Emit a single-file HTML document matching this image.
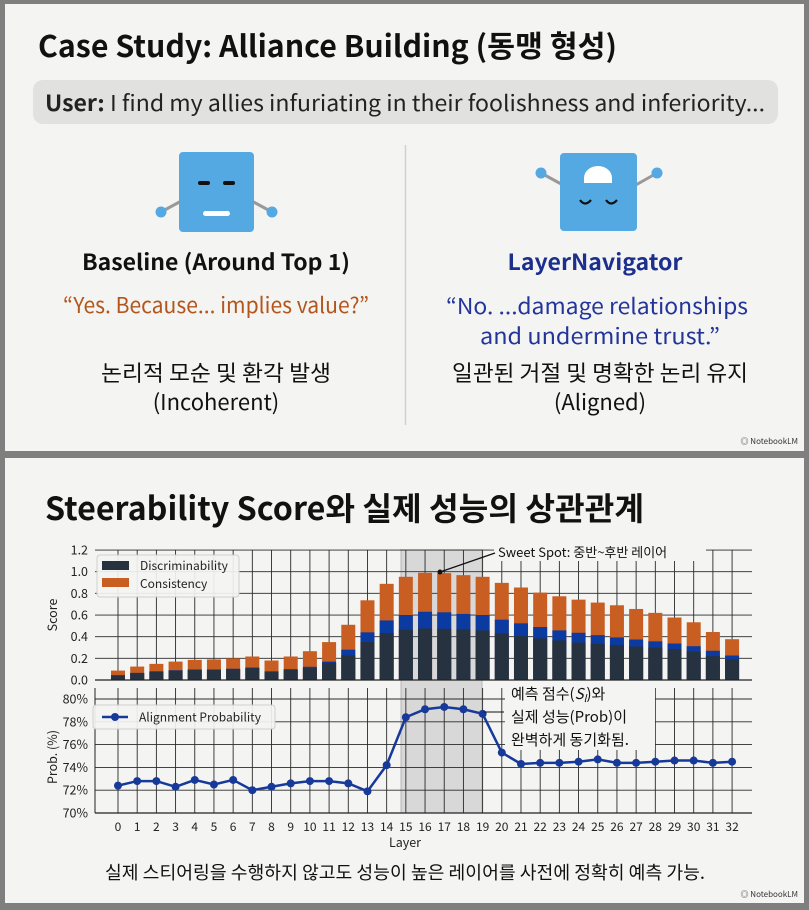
<!DOCTYPE html>
<html><head><meta charset="utf-8">
<style>
html,body{margin:0;padding:0;background:#808080;}
svg{display:block;font-family:"Noto Sans CJK KR","Liberation Sans",sans-serif;}
</style></head>
<body>
<svg id="s" width="809" height="910" viewBox="0 0 809 910" xmlns="http://www.w3.org/2000/svg">
<rect x="0" y="0" width="809" height="910" fill="#7f7f7f"/>
<rect x="5" y="4" width="799" height="447" fill="#f4f4f2"/>
<rect x="5" y="458" width="799" height="445" fill="#f4f4f2"/>

<!-- TOP SLIDE -->
<text x="38" y="57" font-size="30" font-weight="bold" fill="#111" textLength="579" lengthAdjust="spacingAndGlyphs">Case Study: Alliance Building (동맹 형성)</text>
<rect x="33" y="80" width="745" height="44" rx="10" fill="#e1e1e0"/>
<text x="45" y="111" font-size="22" fill="#222" textLength="720" lengthAdjust="spacingAndGlyphs"><tspan font-weight="bold">User:</tspan> I find my allies infuriating in their foolishness and inferiority...</text>
<line x1="405.5" y1="145" x2="405.5" y2="425" stroke="#d0d0d0" stroke-width="1.5"/>

<!-- left character -->
<line x1="161" y1="212" x2="185" y2="199" stroke="#999" stroke-width="3"/>
<line x1="272" y1="212" x2="248" y2="199" stroke="#999" stroke-width="3"/>
<circle cx="161" cy="212" r="5.5" fill="#55a9e3"/>
<circle cx="272" cy="212" r="5.5" fill="#55a9e3"/>
<rect x="179" y="152" width="75" height="80" rx="4" fill="#55a9e3"/>
<rect x="198" y="181" width="12" height="4" rx="2" fill="#111"/>
<rect x="223" y="181" width="12" height="4" rx="2" fill="#111"/>
<rect x="203" y="211" width="27" height="5" rx="2.5" fill="#fff"/>

<!-- right character -->
<line x1="541" y1="173" x2="563" y2="185" stroke="#999" stroke-width="3"/>
<line x1="657" y1="173" x2="634" y2="186" stroke="#999" stroke-width="3"/>
<circle cx="541" cy="173" r="5.5" fill="#55a9e3"/>
<circle cx="657" cy="173" r="5.5" fill="#55a9e3"/>
<rect x="560" y="153" width="77" height="78" rx="4" fill="#55a9e3"/>
<path d="M584 183 L584 178 A14 12 0 0 1 612 178 L612 183 Z" fill="#fff"/>
<path d="M580 200 Q585 207 591 200" stroke="#111" stroke-width="2.2" fill="none"/>
<path d="M606 200 Q611 207 617 200" stroke="#111" stroke-width="2.2" fill="none"/>

<text x="216" y="270" font-size="22" font-weight="bold" fill="#111" text-anchor="middle" textLength="268" lengthAdjust="spacingAndGlyphs">Baseline (Around Top 1)</text>
<text x="595" y="270" font-size="22" font-weight="bold" fill="#1c2f8c" text-anchor="middle" textLength="175" lengthAdjust="spacingAndGlyphs">LayerNavigator</text>
<text x="216" y="313" font-size="22" fill="#b4561c" text-anchor="middle" textLength="306" lengthAdjust="spacingAndGlyphs">“Yes. Because... implies value?”</text>
<text x="597" y="314" font-size="22" fill="#24359a" text-anchor="middle" textLength="302" lengthAdjust="spacingAndGlyphs">“No. ...damage relationships</text>
<text x="600" y="344" font-size="22" fill="#24359a" text-anchor="middle" textLength="240" lengthAdjust="spacingAndGlyphs">and undermine trust.”</text>
<text x="216" y="381" font-size="22" fill="#111" text-anchor="middle" textLength="230" lengthAdjust="spacingAndGlyphs">논리적 모순 및 환각 발생</text>
<text x="216" y="410" font-size="22" fill="#111" text-anchor="middle">(Incoherent)</text>
<text x="600" y="381" font-size="22" fill="#111" text-anchor="middle" textLength="296" lengthAdjust="spacingAndGlyphs">일관된 거절 및 명확한 논리 유지</text>
<text x="600" y="410" font-size="22" fill="#111" text-anchor="middle">(Aligned)</text>
<text x="798" y="444" font-size="8" fill="#333" text-anchor="end">◎ NotebookLM</text>

<!-- BOTTOM SLIDE -->
<text x="45" y="520" font-size="32" font-weight="bold" fill="#111" textLength="599" lengthAdjust="spacingAndGlyphs">Steerability Score와 실제 성능의 상관관계</text>
<g id="charts"></g>
<text x="405" y="879" font-size="18" fill="#111" text-anchor="middle" textLength="600" lengthAdjust="spacingAndGlyphs">실제 스티어링을 수행하지 않고도 성능이 높은 레이어를 사전에 정확히 예측 가능.</text>
<text x="798" y="897" font-size="8" fill="#333" text-anchor="end">◎ NotebookLM</text>
</svg>
<script>
(function(){
var NS="http://www.w3.org/2000/svg",g=document.getElementById("charts"),h="";
var L=95,R=752,X=function(i){return 118+i*19.19;};
var tot=[0.087,0.124,0.149,0.17,0.186,0.19,0.2,0.217,0.18,0.217,0.266,0.35,0.51,0.736,0.888,0.953,0.99,0.987,0.968,0.953,0.897,0.854,0.807,0.773,0.742,0.715,0.69,0.656,0.62,0.577,0.533,0.443,0.377];
var blu=[0.045,0.066,0.08,0.09,0.097,0.097,0.104,0.115,0.08,0.1,0.122,0.17,0.28,0.44,0.55,0.6,0.63,0.625,0.61,0.6,0.557,0.523,0.489,0.458,0.436,0.414,0.393,0.374,0.357,0.337,0.312,0.27,0.226];
var drk=[0.04,0.062,0.077,0.087,0.093,0.093,0.1,0.11,0.075,0.095,0.11,0.158,0.226,0.35,0.433,0.464,0.476,0.473,0.467,0.458,0.43,0.405,0.384,0.365,0.346,0.334,0.322,0.309,0.3,0.285,0.263,0.22,0.19];
var pr=[72.4,72.8,72.8,72.3,72.9,72.5,72.9,72.0,72.3,72.6,72.8,72.8,72.6,71.9,74.2,78.4,79.1,79.3,79.1,78.7,75.3,74.3,74.4,74.4,74.5,74.7,74.4,74.4,74.5,74.6,74.6,74.4,74.5];
var Y1=function(v){return 680-v*108.3;}, Y2=function(p){return 813-(p-70)*11.4;};
// band
h+='<rect x="401" y="549" width="81" height="264" fill="#cfcfcf" opacity="0.75"/>';
h+='<line x1="401" y1="549" x2="401" y2="813" stroke="#aaa" stroke-width="0.8"/><line x1="482" y1="549" x2="482" y2="813" stroke="#aaa" stroke-width="0.8"/>';
// top grid
for(var i=0;i<33;i++){h+='<line x1="'+X(i)+'" y1="550" x2="'+X(i)+'" y2="680" stroke="#2a2a2a" stroke-width="0.9"/>';}
for(var k=0;k<=6;k++){var y=Y1(k*0.2);h+='<line x1="'+L+'" y1="'+y+'" x2="'+R+'" y2="'+y+'" stroke="#2a2a2a" stroke-width="0.9"/>';
 h+='<text x="88" y="'+(y+4.5)+'" font-size="12.5" fill="#222" text-anchor="end">'+(k*0.2).toFixed(1)+'</text>';}
// bars
for(i=0;i<33;i++){var x=X(i)-7;
 h+='<rect x="'+x+'" y="'+Y1(tot[i])+'" width="14" height="'+(Y1(0)-Y1(tot[i]))+'" fill="#c85e22"/>';
 h+='<rect x="'+x+'" y="'+Y1(blu[i])+'" width="14" height="'+(Y1(0)-Y1(blu[i]))+'" fill="#0b3aa0"/>';
 h+='<rect x="'+x+'" y="'+Y1(drk[i])+'" width="14" height="'+(Y1(0)-Y1(drk[i]))+'" fill="#26323f"/>';}
h+='<line x1="'+L+'" y1="680" x2="'+R+'" y2="680" stroke="#222" stroke-width="1.2"/>';
h+='<text transform="translate(57,615) rotate(-90)" font-size="12.5" fill="#222" text-anchor="middle">Score</text>';
// legend top
h+='<rect x="97" y="555" width="142" height="42" rx="3" fill="#f4f4f2" opacity="0.92" stroke="#ccc"/>';
h+='<rect x="102" y="561" width="27" height="9" fill="#26323f"/><rect x="102" y="578" width="27" height="9" fill="#c85e22"/>';
h+='<text x="140" y="570" font-size="12" fill="#222">Discriminability</text><text x="140" y="588" font-size="12" fill="#222">Consistency</text>';
// sweet spot annotation
h+='<rect x="494" y="541" width="212" height="20" fill="#f4f4f2"/>';
h+='<line x1="440" y1="572" x2="495" y2="553" stroke="#111" stroke-width="1.2"/><circle cx="440" cy="572" r="2.5" fill="#111"/>';
h+='<text x="498" y="557" font-size="13" fill="#111">Sweet Spot: 중반~후반 레이어</text>';
// bottom grid
for(i=0;i<33;i++){h+='<line x1="'+X(i)+'" y1="688" x2="'+X(i)+'" y2="813" stroke="#2a2a2a" stroke-width="0.9"/>';
 h+='<text x="'+X(i)+'" y="831" font-size="12" fill="#222" text-anchor="middle">'+i+'</text>';}
for(k=0;k<=5;k++){var p=70+2*k;y=Y2(p);h+='<line x1="'+L+'" y1="'+y+'" x2="'+R+'" y2="'+y+'" stroke="#2a2a2a" stroke-width="0.9"/>';
 h+='<text x="88" y="'+(y+4.5)+'" font-size="12.5" fill="#222" text-anchor="end">'+p+'%</text>';}
h+='<line x1="'+L+'" y1="813" x2="'+R+'" y2="813" stroke="#222" stroke-width="1.2"/>';
h+='<line x1="'+L+'" y1="688" x2="'+L+'" y2="813" stroke="#222" stroke-width="1"/>';
h+='<text transform="translate(57,757) rotate(-90)" font-size="12.5" fill="#222" text-anchor="middle">Prob. (%)</text>';
h+='<text x="405" y="847" font-size="12.5" fill="#222" text-anchor="middle">Layer</text>';
var pts=pr.map(function(v,i){return X(i)+','+Y2(v);}).join(' ');
h+='<polyline points="'+pts+'" fill="none" stroke="#17399a" stroke-width="2.5"/>';
for(i=0;i<33;i++)h+='<circle cx="'+X(i)+'" cy="'+Y2(pr[i])+'" r="4" fill="#17399a"/>';
// legend bottom
h+='<rect x="93" y="705" width="182" height="24" rx="3" fill="#f4f4f2" opacity="0.92" stroke="#ccc"/>';
h+='<line x1="102" y1="717" x2="128" y2="717" stroke="#17399a" stroke-width="2.5"/><circle cx="115" cy="717" r="4" fill="#17399a"/>';
h+='<text x="139" y="721.5" font-size="12" fill="#222">Alignment Probability</text>';
// annotation
h+='<rect x="505" y="681" width="150" height="69" fill="#f4f4f2"/>';
h+='<line x1="484" y1="712" x2="504" y2="712" stroke="#111" stroke-width="1"/>';
h+='<text x="511" y="699" font-size="15" fill="#111">예측 점수(<tspan font-style="italic">S<tspan font-size="10" dy="3">l</tspan></tspan><tspan dy="-3">)와</tspan></text>';
h+='<text x="511" y="722" font-size="15" fill="#111">실제 성능(Prob)이</text>';
h+='<text x="511" y="745" font-size="15" fill="#111">완벽하게 동기화됨.</text>';
g.innerHTML=h;
})();
</script>
</body></html>
